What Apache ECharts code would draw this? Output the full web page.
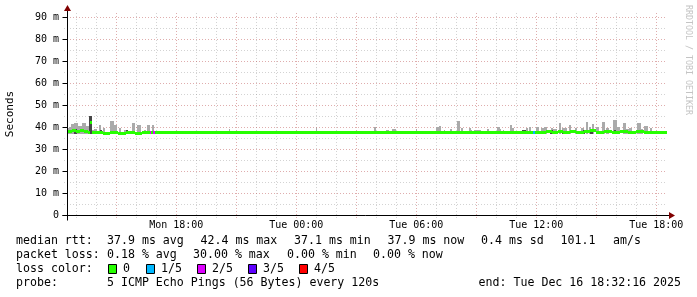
<!DOCTYPE html>
<html><head><meta charset="utf-8">
<script src="https://cdn.jsdelivr.net/npm/echarts@6/dist/echarts.min.js"></script>
<style>html,body{margin:0;padding:0;background:#fff}#c{width:697px;height:297px}</style>
</head><body><div id="c"></div>
<script>
// time axis: hours since Mon 00:00 ; window Mon 12:32:16 -> Tue 18:32:16
const X_MIN = 12 + 32/60 + 16/3600;
const X_MAX = X_MIN + 30;
const Y_MAX = 91.8; // ms
const yTickValues = [0,10,20,30,40,50,60,70,80,90];
const yMinorGrid = [5,15,25,35,45,55,65,75,85];
const xLabelHours = [18,24,30,36,42];
const xMajorGrid = [15,18,21,24,27,30,33,36,39,42];
const xMinorGrid = [13,14,16,17,19,20,22,23,25,26,28,29,31,32,34,35,37,38,40,41];

// median rtt (ms) as steps: [start h, end h, ms]
const medianSteps = [
 [12.54,12.79,37.95],[12.79,12.99,38.4],[12.99,13.19,38.0],[13.19,13.39,38.3],[13.39,13.59,37.8],
 [13.59,13.69,37.3],[13.69,13.79,42.2],[13.79,14.04,37.7],[14.04,14.34,37.3],[14.34,14.69,37.0],
 [14.69,15.09,37.4],[15.09,15.49,37.2],[15.49,15.94,37.4],[15.94,16.29,37.2],[16.29,20.39,37.5],
 [20.39,20.89,37.3],[20.89,36.19,37.5],[36.19,36.49,37.6],[36.49,36.79,38.0],[36.79,37.09,37.4],
 [37.09,37.34,38.1],[37.34,37.69,37.5],[37.69,37.99,37.9],[37.99,38.39,37.3],[38.39,38.69,37.8],
 [38.69,38.99,38.2],[38.99,39.39,37.5],[39.39,39.79,37.9],[39.79,40.19,37.6],[40.19,40.59,38.0],
 [40.59,40.99,37.4],[40.99,41.39,37.8],[41.39,41.79,37.5],[41.79,42.54,37.5]
];
// smoke (ping spread): [start h, end h, top ms, shade 0=light 1=dark]
const smoke = [
 [12.58,12.64,39.6,0],[12.64,12.75,40.1,0],[12.75,12.89,41.4,0],[12.89,13.09,41.7,0],[13.09,13.30,40.5,0],[13.30,13.47,42.0,0],
 [13.47,13.64,40.5,0],[13.80,13.89,38.6,0],[13.89,14.05,39.0,0],[14.14,14.25,40.9,0],[14.35,14.42,39.4,0],[14.67,14.89,42.7,0],
 [14.89,15.02,40.9,0],[15.14,15.22,39.4,0],[15.39,15.49,38.6,0],[15.80,15.92,41.7,0],[16.02,16.22,40.9,0],
 [16.39,16.49,38.6,0],[16.55,16.69,40.9,0],[16.80,16.89,40.9,0],[16.97,17.09,38.3,0],
 [20.64,20.69,39.0,0],[20.85,20.97,38.3,0],[22.64,22.69,38.3,0],[23.10,23.22,38.3,0],[23.47,23.59,38.3,0],
 [23.69,23.80,38.3,0],[24.04,24.09,38.3,0],[24.30,24.47,38.3,0],[24.64,24.69,38.3,0],[24.80,24.89,38.3,0],
 [24.97,25.02,39.4,0],[25.42,25.64,38.3,0],[25.97,26.42,38.3,0],[26.85,27.02,38.3,0],[27.39,27.89,38.3,0],
 [27.89,27.99,39.9,0],[28.25,28.69,38.3,0],[28.49,28.64,38.8,0],[28.80,28.97,39.0,0],[29.99,30.04,39.0,0],
 [30.97,31.14,39.9,0],[31.14,31.25,40.6,0],[31.39,31.44,38.6,0],[31.69,31.80,38.9,0],[32.05,32.17,42.7,0],
 [32.25,32.35,39.4,0],[32.64,32.72,39.4,0],[32.72,32.80,38.6,0],[32.89,33.22,38.6,0],[33.30,33.39,38.3,0],
 [33.55,33.64,39.0,0],[34.02,34.19,39.9,0],[34.19,34.25,39.0,0],[34.35,34.39,38.6,0],[34.67,34.80,40.9,0],
 [34.80,34.89,39.4,0],[35.47,35.59,39.4,0],[35.64,35.75,40.2,0],[35.97,36.14,40.2,0],[36.22,36.39,39.4,0],
 [36.39,36.55,40.2,0],[36.72,36.85,39.4,0],[36.85,37.05,39.0,0],[37.14,37.22,41.7,0],[37.30,37.55,39.4,0],
 [37.64,37.75,40.9,0],[37.92,38.02,39.4,0],[38.25,38.39,39.4,0],[38.47,38.59,42.1,0],[38.64,38.75,40.2,0],
 [38.80,38.89,41.4,0],[38.97,39.14,39.9,0],[39.30,39.44,42.4,0],[39.47,39.64,39.4,0],[39.85,40.05,43.2,0],
 [40.05,40.19,39.9,0],[40.35,40.47,42.0,0],[40.47,40.64,39.0,0],[40.64,40.80,39.4,0],[41.05,41.22,41.7,0],
 [41.22,41.34,39.0,0],[41.39,41.59,40.5,0],[41.69,41.80,39.4,0],[42.14,42.19,38.3,0],
 [12.89,13.04,39.3,1],[13.64,13.80,45.1,1],[14.19,14.29,38.6,1],[15.49,15.59,38.5,1],[35.30,35.47,38.6,1],
 [36.69,36.84,38.6,1],[37.29,37.44,38.4,1],[38.34,38.44,38.6,1],[38.69,38.84,38.8,1],[39.04,39.19,38.4,1],
 [39.89,39.99,38.6,1]
];
const SMOKE_FLOOR = 36.9;
// loss segments: [start h, end h, median ms, loss level 1..4]
const lossSegments = [[16.69,16.76,37.6,2],[16.86,16.96,37.6,2],[35.84,35.96,37.5,1]];
const lossColors = ['#26ff00','#00b8ff','#dd00ff','#5e00ff','#ff0000'];
const lossLabels = ['0','1/5','2/5','3/5','4/5'];

const rttLabel = 'median rtt:';
const rttStats = ['37.9 ms avg','42.4 ms max','37.1 ms min','37.9 ms now','0.4 ms sd','101.1','am/s'];
const lossLabel = 'packet loss:';
const lossStats = ['0.18 % avg','30.00 % max','0.00 % min','0.00 % now'];
const colorLabel = 'loss color:';
const probeLabel = 'probe:';
const probeText = '5 ICMP Echo Pings (56 Bytes) every 120s';
const endText = 'end: Tue Dec 16 18:32:16 2025';
const watermark = 'RRDTOOL / TOBI OETIKER';

const MONO = '"DejaVu Sans Mono", monospace';
const LF = '11.6px ' + MONO;
const GRID_MINOR = 'rgba(140,140,140,0.38)';
const GRID_MAJOR = 'rgba(170,40,40,0.38)';

function pad(n){return (n<10?'0':'')+n;}

const chart = echarts.init(document.getElementById('c'), null, {renderer:'canvas'});

// legend graphics
const g = [];
function txt(x,y,t,font,fill){ g.push({type:'text', x:x, y:y, silent:true, style:{text:t, font:font||LF, fill:fill||'#000', verticalAlign:'middle', align:'left'}}); }
const rowY = [241,255,269,283];
const rttX = [107,200.5,294,387.5,481,560.5,613];
txt(16,rowY[0],rttLabel); rttStats.forEach((s,i)=>txt(rttX[i],rowY[0],s));
const lossX = [107,193,287,373];
txt(16,rowY[1],lossLabel); lossStats.forEach((s,i)=>txt(lossX[i],rowY[1],s));
txt(16,rowY[2],colorLabel);
const boxX = [108,146,197,248,299];
lossLabels.forEach((l,i)=>{
  g.push({type:'rect', silent:true, shape:{x:boxX[i]+0.5,y:rowY[2]-4.5,width:8,height:9}, style:{fill:lossColors[i], stroke:'#000', lineWidth:1}});
  txt(boxX[i]+15,rowY[2],l);
});
txt(16,rowY[3],probeLabel); txt(107,rowY[3],probeText);
g.push({type:'text', x:681, y:rowY[3], silent:true, style:{text:endText, font:LF, fill:'#000', verticalAlign:'middle', align:'right'}});
g.push({type:'text', x:688, y:5, rotation:-Math.PI/2, silent:true, style:{text:watermark, font:'8.3px '+MONO, fill:'#c4c4c4', verticalAlign:'middle', align:'left'}});

const vgridData = xMinorGrid.map(h=>[h,0,0]).concat(xMajorGrid.map(h=>[h,0,1]));
const hgridData = yMinorGrid.map(v=>[X_MIN,v,0]).concat(yTickValues.filter(v=>v>0).map(v=>[X_MIN,v,1]));

const option = {
  animation:false,
  backgroundColor:'#fff',
  grid:{left:67, top:13, width:600, height:202, containLabel:false, outerBoundsMode:'none'},
  xAxis:{type:'value', min:X_MIN, max:X_MAX,
    axisLine:{show:false}, axisTick:{show:false}, splitLine:{show:false},
    axisLabel:{customValues:xLabelHours, margin:5, color:'#000', fontFamily:'DejaVu Sans Mono', fontSize:10,
      formatter:v=>{const h=Math.round(v); return (h<24?'Mon':'Tue')+' '+pad(h%24)+':00';}}},
  yAxis:{type:'value', min:0, max:Y_MAX, interval:10,
    name:'Seconds', nameLocation:'middle', nameRotate:90, nameGap:51,
    nameTextStyle:{color:'#000', fontFamily:'DejaVu Sans Mono', fontSize:11},
    axisLine:{show:false}, axisTick:{show:false}, splitLine:{show:false},
    axisLabel:{showMaxLabel:false, margin:8, color:'#000', fontFamily:'DejaVu Sans Mono', fontSize:10,
      formatter:v=> v===0 ? '0' : (v%10===0 ? v+' m' : '')}},
  graphic:g,
  series:[
    {type:'custom', name:'vgrid', clip:false, silent:true, z:1, data:vgridData,
      renderItem:(p,api)=>{
        const h=api.value(0), k=api.value(2);
        const t=api.coord([h,Y_MAX]), b=api.coord([h,0]);
        const x=Math.round(t[0])+0.5;
        return {type:'line', shape:{x1:x,y1:t[1],x2:x,y2:b[1]+3}, style:{stroke:k?GRID_MAJOR:GRID_MINOR, lineWidth:1, lineDash:[1,2]}};
      }},
    {type:'custom', name:'hgrid', clip:false, silent:true, z:1, data:hgridData,
      renderItem:(p,api)=>{
        const v=api.value(1), k=api.value(2);
        const l=api.coord([X_MIN,v]), r=api.coord([X_MAX,v]);
        const y=Math.round(l[1])+0.5;
        return {type:'line', shape:{x1:l[0]-3,y1:y,x2:r[0],y2:y}, style:{stroke:k?GRID_MAJOR:GRID_MINOR, lineWidth:1, lineDash:[1,2]}};
      }},
    {type:'custom', name:'smoke', clip:true, silent:true, z:2, data:smoke,
      renderItem:(p,api)=>{
        const a=api.coord([api.value(0),api.value(2)]), b=api.coord([api.value(1),SMOKE_FLOOR]);
        const x=Math.round(a[0]), w=Math.max(1,Math.round(b[0])-x);
        const y=Math.round(a[1]), hh=Math.round(b[1])-y;
        return {type:'rect', shape:{x:x,y:y,width:w,height:hh}, style:{fill:api.value(3)?'#464646':'#aaaaaa'}};
      }},
    {type:'custom', name:'median', clip:true, silent:true, z:3, data:medianSteps,
      renderItem:(p,api)=>{
        const a=api.coord([api.value(0),api.value(2)]), b=api.coord([api.value(1),api.value(2)]);
        const x=Math.round(a[0]), w=Math.max(1,Math.round(b[0])-x);
        return {type:'rect', shape:{x:x,y:Math.round(a[1]-1.5),width:w,height:3}, style:{fill:lossColors[0]}};
      }},
    {type:'custom', name:'loss', clip:true, silent:true, z:4, data:lossSegments,
      renderItem:(p,api)=>{
        const a=api.coord([api.value(0),api.value(2)]), b=api.coord([api.value(1),api.value(2)]);
        const x=Math.round(a[0]), w=Math.max(1,Math.round(b[0])-x);
        return {type:'rect', shape:{x:x,y:Math.round(a[1]-1.5),width:w,height:3}, style:{fill:lossColors[api.value(3)]}};
      }},
    {type:'custom', name:'axes', clip:false, silent:true, z:5, data:[[X_MIN,0]],
      renderItem:(p,api)=>{
        const o=api.coord([X_MIN,0]), e=api.coord([X_MAX,Y_MAX]);
        const ox=Math.round(o[0])+0.5, oy=Math.round(o[1])+0.5;
        const ch=[
          {type:'line', shape:{x1:ox-5,y1:oy,x2:e[0]+2,y2:oy}, style:{stroke:'#000',lineWidth:1}},
          {type:'line', shape:{x1:ox,y1:oy+5,x2:ox,y2:e[1]-2}, style:{stroke:'#000',lineWidth:1}},
          {type:'polygon', shape:{points:[[e[0]+2,oy-3.5],[e[0]+8,oy],[e[0]+2,oy+3.5]]}, style:{fill:'#800000'}},
          {type:'polygon', shape:{points:[[ox-3.5,e[1]-2],[ox,e[1]-8],[ox+3.5,e[1]-2]]}, style:{fill:'#800000'}}
        ];
        yTickValues.forEach(v=>{const c=api.coord([X_MIN,v]); const y=Math.round(c[1])+0.5; ch.push({type:'line', shape:{x1:ox-5,y1:y,x2:ox,y2:y}, style:{stroke:'#000',lineWidth:1}});});
        return {type:'group', children:ch};
      }}
  ]
};
chart.setOption(option);
</script></body></html>
